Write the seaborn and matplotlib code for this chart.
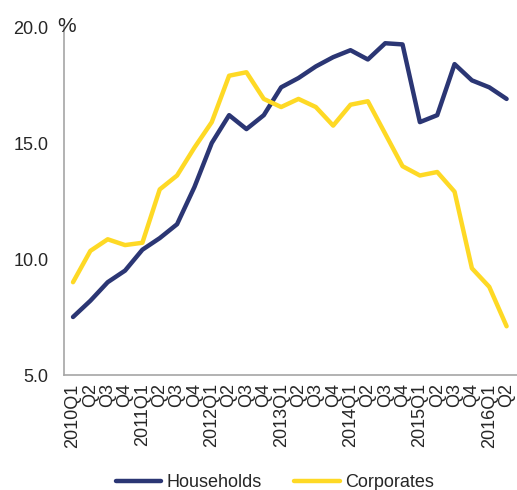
import pandas as pd
import matplotlib
matplotlib.use('Agg')
import matplotlib.pyplot as plt
import seaborn as sns

# Quarterly series, 2010Q1 - 2016Q2 (%)
quarters = [f"{y}Q{q}" for y in range(2010, 2017) for q in range(1, 5)][:26]
tick_labels = [q if q.endswith('Q1') else q[-2:] for q in quarters]

households = [7.5, 8.2, 9.0, 9.5, 10.4, 10.9, 11.5, 13.1, 15.0, 16.2, 15.6, 16.2,
              17.4, 17.8, 18.3, 18.7, 19.0, 18.6, 19.3, 19.25, 15.9, 16.2, 18.4, 17.7,
              17.4, 16.9]
corporates = [9.0, 10.35, 10.85, 10.6, 10.7, 13.0, 13.6, 14.8, 15.9, 17.9, 18.05, 16.9,
              16.55, 16.9, 16.55, 15.75, 16.65, 16.8, 15.4, 14.0, 13.6, 13.75, 12.9, 9.6,
              8.8, 7.1]

series_names = ['Households', 'Corporates']
colors = ['#2B3674', '#FED925']

df = pd.DataFrame({
    'idx': list(range(len(quarters))) * 2,
    'value': households + corporates,
    'series': [series_names[0]] * len(quarters) + [series_names[1]] * len(quarters),
})

sns.set_style('white')
plt.rcParams['font.family'] = ['Liberation Sans', 'DejaVu Sans']

fig = plt.figure(figsize=(5.17, 4.90), dpi=100)
ax = fig.add_axes([64 / 517, 115 / 490, 1 - 64 / 517, 348 / 490])

sns.lineplot(data=df, x='idx', y='value', hue='series', palette=colors,
             linewidth=3.2, ax=ax, legend=False)

ax.set_xlim(-0.52, 25.6)
ax.set_ylim(5, 20)
ax.set_yticks([5, 10, 15, 20])
ax.set_yticklabels([f"{v:.1f}" for v in [5, 10, 15, 20]], fontsize=13)
ax.set_xticks(range(len(quarters)))
ax.set_xticklabels(tick_labels, rotation=90, fontsize=13)
ax.tick_params(axis='x', length=0, pad=6)
ax.tick_params(axis='y', length=0, pad=11)
ax.set_xlabel('')
ax.set_ylabel('')

for side in ['top', 'right']:
    ax.spines[side].set_visible(False)
for side in ['left', 'bottom']:
    ax.spines[side].set_color('#A6A6A6')
    ax.spines[side].set_linewidth(1.2)

ax.text(-0.015, 1.0, '%', transform=ax.transAxes, fontsize=15, ha='left', va='center')

handles = [plt.Line2D([], [], color=c, linewidth=3.2) for c in colors]
fig.legend(handles, series_names, loc='lower center', bbox_to_anchor=(275 / 517, -0.035),
           ncol=2, frameon=False, fontsize=13, handlelength=2.5, handletextpad=0.3,
           columnspacing=1.8)

fig.savefig('out.png', dpi=100)
